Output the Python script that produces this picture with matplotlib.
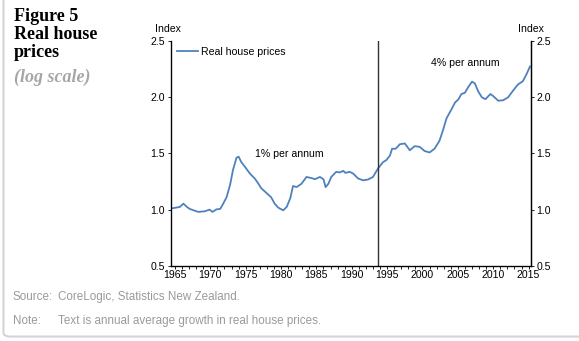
import matplotlib.pyplot as plt
from matplotlib.patches import FancyBboxPatch
from matplotlib.ticker import MultipleLocator, FormatStrFormatter

# Real house price index (1965 = 1.0)
years = [1964.4, 1964.9, 1965.7, 1966.2, 1966.7, 1967.1, 1968.3, 1969.2, 1969.9, 1970.3,
         1970.9, 1971.4, 1971.8, 1972.3, 1972.8, 1973.2, 1973.7, 1974.0, 1974.4, 1974.9,
         1975.6, 1976.3, 1976.8, 1977.2, 1977.9, 1978.6, 1979.1, 1979.6, 1980.3, 1980.8,
         1981.3, 1981.7, 1982.2, 1982.9, 1983.6, 1984.3, 1984.8, 1985.5, 1986.0, 1986.3,
         1986.7, 1987.1, 1987.8, 1988.3, 1988.8, 1989.1, 1989.7, 1990.2, 1990.9, 1991.6,
         1992.3, 1993.0, 1993.7, 1994.4, 1994.9, 1995.4, 1995.7, 1996.2, 1996.8, 1997.5,
         1998.2, 1998.9, 1999.6, 2000.3, 2001.0, 2001.7, 2002.4, 2002.9, 2003.4, 2004.1,
         2004.6, 2005.1, 2005.5, 2006.0, 2006.5, 2007.0, 2007.4, 2007.9, 2008.4, 2008.9,
         2009.6, 2010.0, 2010.7, 2011.4, 2012.1, 2012.8, 2013.5, 2014.2, 2014.7, 2015.2]
prices = [1.01, 1.015, 1.024, 1.053, 1.024, 1.006, 0.98, 0.985, 1.0, 0.98,
          1.003, 1.006, 1.05, 1.11, 1.22, 1.35, 1.46, 1.47, 1.42, 1.38,
          1.32, 1.275, 1.23, 1.19, 1.15, 1.11, 1.053, 1.018, 0.994, 1.024,
          1.10, 1.21, 1.20, 1.23, 1.29, 1.28, 1.27, 1.29, 1.27, 1.20,
          1.23, 1.29, 1.335, 1.33, 1.344, 1.326, 1.335, 1.32, 1.276, 1.26,
          1.267, 1.29, 1.364, 1.42, 1.44, 1.48, 1.54, 1.54, 1.58, 1.587,
          1.527, 1.563, 1.557, 1.52, 1.507, 1.54, 1.61, 1.705, 1.81, 1.89,
          1.95, 1.98, 2.025, 2.037, 2.09, 2.135, 2.12, 2.046, 1.996, 1.98,
          2.025, 2.007, 1.966, 1.97, 1.996, 2.055, 2.11, 2.14, 2.20, 2.27]

break_year = 1993.7
xticks = list(range(1965, 2016, 5))
yticks = [0.5, 1.0, 1.5, 2.0, 2.5]

plt.rcParams['font.family'] = ['Liberation Sans', 'DejaVu Sans']
plt.rcParams['font.size'] = 7.6

fig = plt.figure(figsize=(5.79, 3.41), dpi=100)

# grey panel border on the left and bottom
frame = FancyBboxPatch((0.006, 0.013), 1.2, 1.2, boxstyle='round,pad=0,rounding_size=0.012',
                       transform=fig.transFigure, facecolor='none', edgecolor='#d4d4d4',
                       linewidth=1.5, zorder=0)
fig.patches.append(frame)

ax = fig.add_axes([0.2948, 0.2199, 0.6218, 0.6613])
ax.plot(years, prices, color='#4f81bd', lw=1.3, label='Real house prices')
ax.axvline(break_year, color='#333333', lw=1.0)

ax.set_xlim(1964.4, 2015.3)
ax.set_ylim(0.5, 2.5)
ax.set_xticks(xticks)
ax.xaxis.set_minor_locator(MultipleLocator(1))
ax.set_yticks(yticks)
ax.yaxis.set_major_formatter(FormatStrFormatter('%.1f'))
ax.tick_params(axis='x', which='both', direction='out', length=2.5, width=0.6, pad=0.5)
ax.tick_params(axis='y', direction='out', length=2.5, width=0.6, pad=1.5)
for s in ['left', 'bottom', 'right']:
    ax.spines[s].set_linewidth(0.9)
ax.spines['top'].set_visible(False)

ax2 = ax.twinx()
ax2.set_ylim(0.5, 2.5)
ax2.set_yticks(yticks)
ax2.yaxis.set_major_formatter(FormatStrFormatter('%.1f'))
ax2.tick_params(axis='y', direction='out', length=2.5, width=0.6, pad=1.5)
ax2.spines['top'].set_visible(False)
ax2.spines['right'].set_linewidth(0.9)

ax.text(-0.007, 1.03, 'Index', transform=ax.transAxes, ha='center', va='bottom')
ax.text(1.0, 1.03, 'Index', transform=ax.transAxes, ha='center', va='bottom')

ax.legend(loc='upper left', frameon=False, handlelength=2.0, handletextpad=0.3,
          borderaxespad=0.2, bbox_to_anchor=(0.0, 1.0))

ax.text(1981.2, 1.49, '1% per annum', ha='center', va='center')
ax.text(2006.0, 2.30, '4% per annum', ha='center', va='center')

# title block
fig.text(0.024, 0.978, 'Figure 5\nReal house\nprices', family='Liberation Serif',
         weight='bold', fontsize=13, va='top', ha='left', linespacing=1.1)
fig.text(0.024, 0.8, '(log scale)', family='Liberation Serif', style='italic',
         weight='bold', fontsize=13, color='#a6a6a6', va='top', ha='left')

# footnotes
grey = '#9a9a9a'
fig.text(0.022, 0.128, 'Source:', color=grey, fontsize=8.4, va='center')
fig.text(0.1, 0.128, 'CoreLogic, Statistics New Zealand.', color=grey, fontsize=8.4, va='center')
fig.text(0.022, 0.058, 'Note:', color=grey, fontsize=8.4, va='center')
fig.text(0.1, 0.058, 'Text is annual average growth in real house prices.', color=grey,
         fontsize=8.4, va='center')

fig.savefig('out.png', dpi=100)
